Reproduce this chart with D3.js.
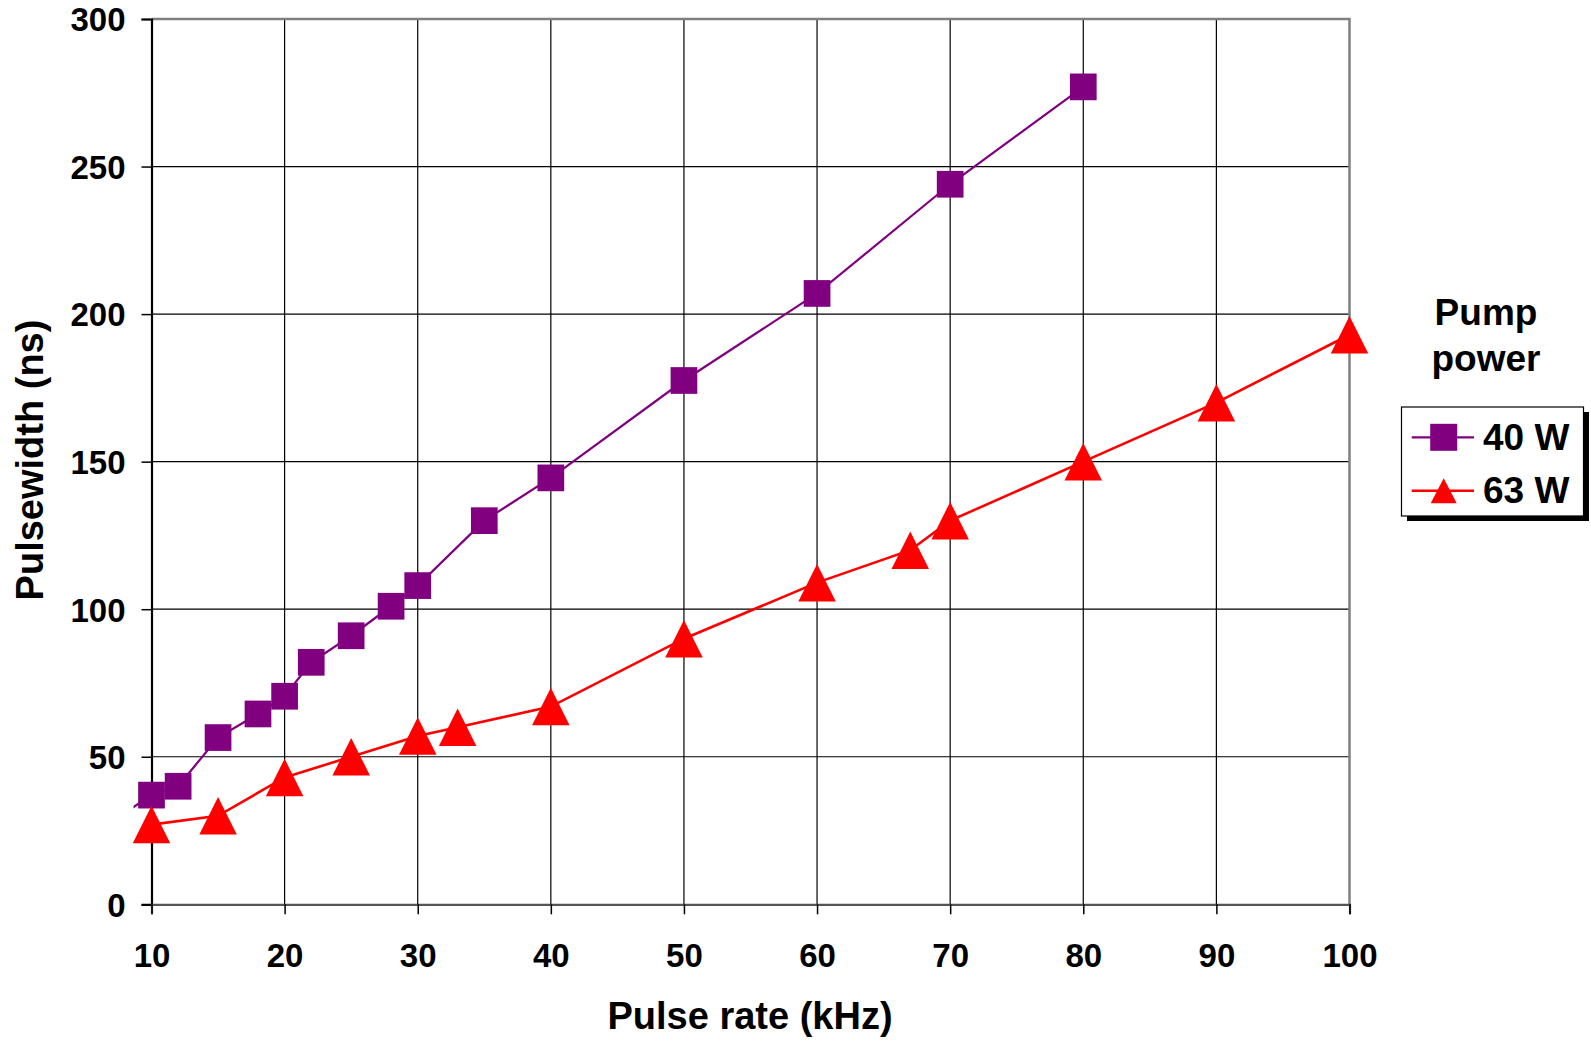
<!DOCTYPE html>
<html>
<head>
<meta charset="utf-8">
<script src="https://cdn.jsdelivr.net/npm/d3@7"></script>
<style>
  html, body { margin: 0; padding: 0; background: #fff; }
  svg { display: block; font-family: "Liberation Sans", Arial, sans-serif; font-weight: bold; }
</style>
</head>
<body>
<svg id="chart" width="1591" height="1041"></svg>
<script>
// ---- data ----
const xTicks = [10, 20, 30, 40, 50, 60, 70, 80, 90, 100];
const yTicks = [0, 50, 100, 150, 200, 250, 300];

const rate40 = [8, 10, 12, 15, 18, 20, 22, 25, 28, 30, 35, 40, 50, 60, 70, 80];
const width40 = [31, 37, 40, 56.5, 64.5, 70.5, 82, 91, 101, 108, 130, 144.5, 177.5, 207, 244, 277];

const rate63 = [10, 15, 20, 25, 30, 33, 40, 50, 60, 67, 70, 80, 90, 100];
const width63 = [27, 30, 43, 50, 57, 60, 67, 90, 109, 120, 130, 150, 170, 193];

const seriesNames = ["40 W", "63 W"];
const seriesColors = ["#800080", "#FF0000"];
const legendTitle = ["Pump", "power"];
const xTitle = "Pulse rate (kHz)";
const yTitle = "Pulsewidth (ns)";

// ---- layout ----
const svg = d3.select("#chart");
const pLeft = 151.5, pRight = 1349.5, pTop = 19, pBottom = 904.3;
const x = d3.scaleLinear().domain([10, 100]).range([pLeft, pRight]);
const y = d3.scaleLinear().domain([0, 300]).range([pBottom, pTop]);

// gridlines
const grid = svg.append("g");
grid.selectAll("line.h").data(yTicks.filter(v => v > 0 && v < 300)).join("line")
  .attr("x1", pLeft).attr("x2", pRight).attr("y1", d => y(d)).attr("y2", d => y(d))
  .attr("stroke", "#000").attr("stroke-width", 1.2);
grid.selectAll("line.v").data(xTicks.filter(v => v > 10 && v < 100)).join("line")
  .attr("y1", pTop).attr("y2", pBottom).attr("x1", d => x(d)).attr("x2", d => x(d))
  .attr("stroke", "#000").attr("stroke-width", 1.2);

// plot border top/right (gray)
svg.append("path")
  .attr("d", `M${pLeft},${pTop}H${pRight}V${pBottom}`)
  .attr("fill", "none").attr("stroke", "#808080").attr("stroke-width", 2.5);

// axes
const yAxis = d3.axisLeft(y).tickValues(yTicks).tickSize(10).tickPadding(16).tickFormat(d3.format("d"));
const gy = svg.append("g").attr("transform", `translate(${pLeft},0)`).call(yAxis);
gy.select(".domain").attr("stroke", "#000").attr("stroke-width", 2.2);
gy.selectAll(".tick line").attr("stroke", "#000").attr("stroke-width", 1.5);
gy.selectAll(".tick text").attr("font-size", 33).attr("font-weight", "bold")
  .attr("font-family", "Liberation Sans, Arial, sans-serif").attr("fill", "#000")
  .attr("x", -26).attr("dy", "0.36em");

const xAxis = d3.axisBottom(x).tickValues(xTicks).tickSize(10).tickFormat(d3.format("d"));
const gx = svg.append("g").attr("transform", `translate(0,${pBottom})`).call(xAxis);
gx.select(".domain").attr("stroke", "#555").attr("stroke-width", 2.2);
gx.selectAll(".tick line").attr("stroke", "#000").attr("stroke-width", 1.5);
gx.selectAll(".tick text").attr("font-size", 33).attr("font-weight", "bold")
  .attr("font-family", "Liberation Sans, Arial, sans-serif").attr("fill", "#000")
  .attr("y", 0).attr("dy", 63);

// axis titles
svg.append("text").attr("x", 750).attr("y", 1029).attr("text-anchor", "middle")
  .attr("font-size", 38).text(xTitle);
svg.append("text").attr("transform", "translate(43,460) rotate(-90)").attr("text-anchor", "middle")
  .attr("font-size", 38).text(yTitle);

// clip for lines
svg.append("clipPath").attr("id", "lineclip").append("rect")
  .attr("x", pLeft - 18).attr("y", 0).attr("width", pRight - pLeft + 40).attr("height", 1041);

const line = d3.line().x(d => x(d[0])).y(d => y(d[1]));
const d40 = rate40.map((r, i) => [r, width40[i]]);
const d63 = rate63.map((r, i) => [r, width63[i]]);

svg.append("path").datum(d40).attr("d", line).attr("fill", "none")
  .attr("stroke", seriesColors[0]).attr("stroke-width", 2.2).attr("clip-path", "url(#lineclip)");
svg.append("path").datum(d63).attr("d", line).attr("fill", "none")
  .attr("stroke", seriesColors[1]).attr("stroke-width", 2.6).attr("clip-path", "url(#lineclip)");

const sq = 26.7;
svg.append("g").selectAll("rect").data(d40.filter(d => d[0] >= 10)).join("rect")
  .attr("x", d => x(d[0]) - sq / 2).attr("y", d => y(d[1]) - sq / 2)
  .attr("width", sq).attr("height", sq).attr("fill", seriesColors[0]);

function tri(cx, cy, w, h) {
  return `M${cx},${cy - h / 2}L${cx + w / 2},${cy + h / 2}L${cx - w / 2},${cy + h / 2}Z`;
}
svg.append("g").selectAll("path").data(d63).join("path")
  .attr("d", d => tri(x(d[0]), y(d[1]), 37.5, 37.5)).attr("fill", seriesColors[1]);

// legend title
svg.append("text").attr("x", 1486).attr("y", 325).attr("text-anchor", "middle")
  .attr("font-size", 37).text(legendTitle[0]);
svg.append("text").attr("x", 1486).attr("y", 371).attr("text-anchor", "middle")
  .attr("font-size", 37).text(legendTitle[1]);

// legend box
const lg = svg.append("g");
lg.append("rect").attr("x", 1407).attr("y", 412).attr("width", 182).attr("height", 109).attr("fill", "#000");
lg.append("rect").attr("x", 1401.5).attr("y", 407).attr("width", 182).attr("height", 109)
  .attr("fill", "#fff").attr("stroke", "#000").attr("stroke-width", 1.2);

const rowsY = [437.3, 490.8];
seriesNames.forEach((name, i) => {
  const cy = rowsY[i];
  lg.append("line").attr("x1", 1411.7).attr("x2", 1474).attr("y1", cy).attr("y2", cy)
    .attr("stroke", seriesColors[i]).attr("stroke-width", i === 0 ? 2.2 : 2.6);
  if (i === 0) {
    lg.append("rect").attr("x", 1443.7 - 13.5).attr("y", cy - 13.5).attr("width", 27).attr("height", 27)
      .attr("fill", seriesColors[i]);
  } else {
    lg.append("path").attr("d", tri(1443.7, cy, 26, 25)).attr("fill", seriesColors[i]);
  }
  lg.append("text").attr("x", 1483).attr("y", cy + 12.5).attr("font-size", 37).text(name);
});
</script>
</body>
</html>
